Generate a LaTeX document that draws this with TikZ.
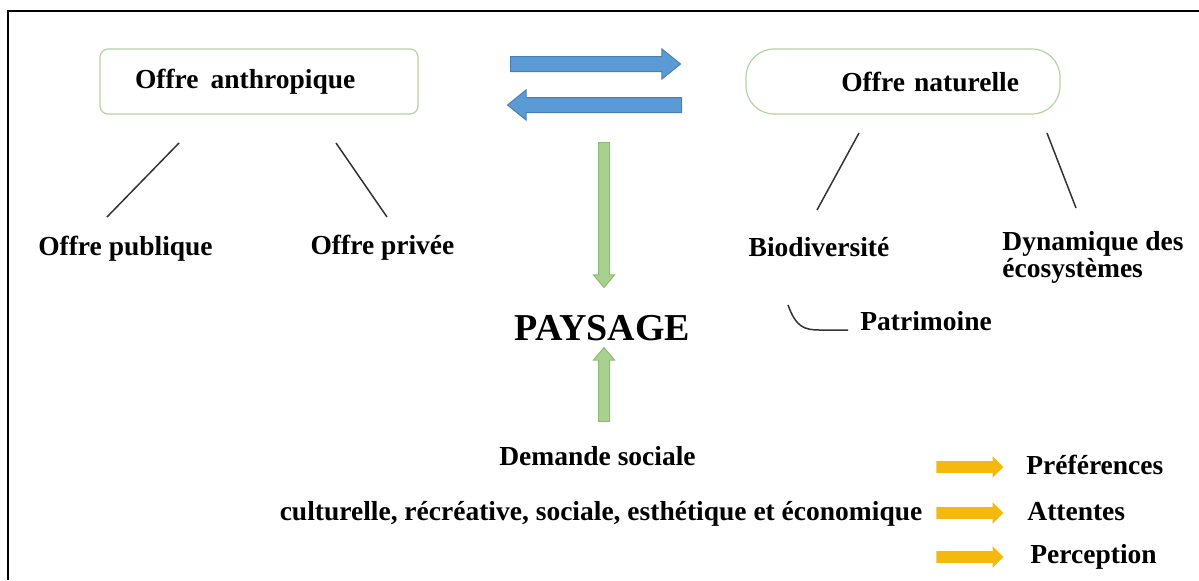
\documentclass[tikz,border=0pt]{standalone}
\usepackage{fontspec}
\setmainfont{Liberation Serif}
\usepackage{tikz}
\usetikzlibrary{shapes.arrows}
\usepackage{xcolor}
\definecolor{boxgreen}{HTML}{B4D3A0}
\definecolor{arrblue}{HTML}{5B9BD5}
\definecolor{arrblueline}{HTML}{4A7FB5}
\definecolor{arrgreen}{HTML}{A9D18E}
\definecolor{arrgreenline}{HTML}{8FBC73}
\definecolor{arrorange}{HTML}{F5B80C}
\begin{document}
\begin{tikzpicture}[x=0.5pt,y=-0.5pt,font=\bfseries\fontsize{13.75}{15}\selectfont,
 lbl/.style={inner sep=0pt,anchor=base},
 box/.style={draw=boxgreen,line width=0.6pt,minimum height=32.5pt,inner ysep=0pt},
 barrow/.style={single arrow,draw=arrblueline,fill=arrblue,line width=0.5pt,inner xsep=0pt,inner ysep=3.5pt,single arrow head extend=3.75pt,single arrow tip angle=78,anchor=tail},
 garrow/.style={single arrow,draw=arrgreenline,fill=arrgreen,line width=0.5pt,inner sep=2.5pt,single arrow head extend=2.5pt,single arrow tip angle=80,anchor=tail},
 oarrow/.style={single arrow,fill=arrorange,inner xsep=0pt,inner ysep=2.75pt,single arrow head extend=2.5pt,single arrow tip angle=90,anchor=tail},
 link/.style={draw=black!80,line width=0.75pt}]
\useasboundingbox (0,0) rectangle (1199,580);
\coordinate(f1) at (8,580);\coordinate(f2) at (8,11);\coordinate(f3) at (1199,11);
\draw[line width=1pt](f1)--(f2)--(f3);
\node[box,rounded corners=4pt,minimum width=159pt,text width=124pt,inner xsep=17.5pt,align=left](anth) at (259,81.5){Offre\hspace{6pt}anthropique};
\node[box,rounded corners=14pt,minimum width=157pt,text width=116pt,inner xsep=20.5pt,align=right](nat) at (903,81.5){Offre naturelle};
\node[barrow,minimum height=85pt](bl1) at (510,64){};
\node[barrow,minimum height=87pt,shape border rotate=180](bl2) at (682,105){};
\node[garrow,minimum height=72.5pt,shape border rotate=270](gr1) at (604,142){};
\node[garrow,minimum height=37pt,shape border rotate=90](gr2) at (604,422){};
\node[lbl](pub) at (125.5,255){Offre publique};
\node[lbl](priv) at (382.5,254){Offre privée};
\node[lbl](bio) at (819,256){Biodiversité};
\node[lbl,anchor=base west](dyn) at (1002,250){Dynamique des};
\node[lbl,anchor=base west](eco) at (1002,277){écosystèmes};
\node[lbl,anchor=base west](pat) at (860,330){Patrimoine};
\node[lbl,font=\bfseries\fontsize{19}{20}\selectfont](pay) at (602.5,340){PAYSAGE};
\node[lbl](dem) at (597.5,465){Demande sociale};
\node[lbl](cult) at (601,520){culturelle, récréative, sociale, esthétique et économique};
\node[oarrow,minimum height=33.5pt](or1) at (936,467){};
\node[oarrow,minimum height=33.5pt](or2) at (936,513){};
\node[oarrow,minimum height=33.5pt](or3) at (936,557){};
\node[lbl,anchor=base west](pref) at (1026,474){Préférences};
\node[lbl,anchor=base west](att) at (1027,520){Attentes};
\node[lbl,anchor=base west](perc) at (1030,563){Perception};
\coordinate(a1) at (179,143);\coordinate(a2) at (107,217);\coordinate(a3) at (336,143);\coordinate(a4) at (387,217);
\coordinate(n1) at (859,133);\coordinate(n2) at (817,210);\coordinate(n3) at (1047,133);\coordinate(n4) at (1076,208);
\coordinate(p1) at (788,305);\coordinate(p2) at (848,330);
\draw[link](a1)--(a2);\draw[link](a3)--(a4);\draw[link](n1)--(n2);\draw[link](n3)--(n4);
\draw[link](p1) .. controls (796,327) and (804,330) .. (820,330)--(p2);
\end{tikzpicture}
\end{document}
